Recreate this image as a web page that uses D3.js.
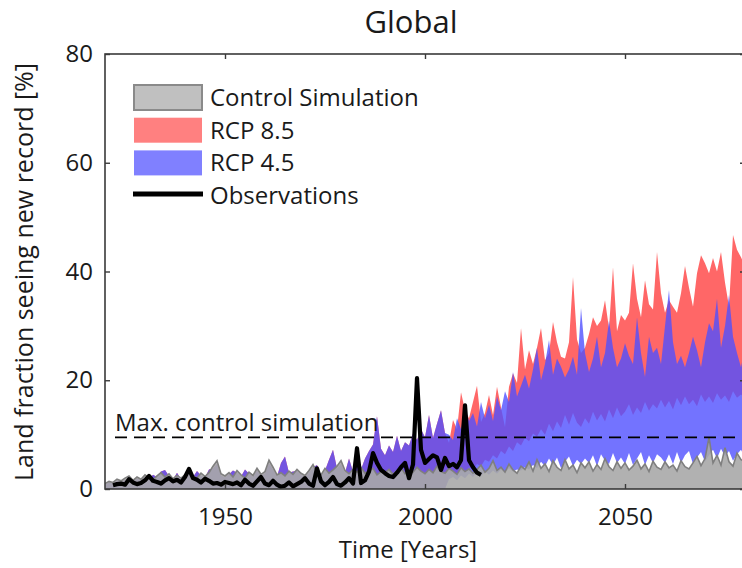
<!DOCTYPE html>
<meta charset="utf-8">
<style>
body { margin: 0; background: #fff; }
text { font-family: "Open Sans", sans-serif; fill: #1a1a1a; }
</style>

<svg width="742" height="568"></svg>
<script src="https://d3js.org/d3.v7.min.js"></script>
<script>

// ---- data (percent of land area) ----
var modelStart = 1920;
// control simulation upper envelope, 1920-2080
var ctrlHi = [
  1.0, 1.4, 1.2, 1.8, 1.5, 2.0, 2.4, 1.6, 2.2, 1.8,
  2.6, 2.0, 1.7, 2.4, 3.0, 2.2, 2.8, 1.9, 2.5, 2.0,
  2.6, 3.2, 2.4, 2.0, 2.9, 2.3, 3.0, 4.2, 5.2, 2.8,
  2.4, 3.0, 2.2, 3.4, 2.6, 2.0, 3.1, 2.5, 3.8, 2.7,
  3.2, 5.3, 4.0, 2.6, 3.0, 2.4, 3.3, 2.7, 3.6, 2.9,
  2.5, 3.4, 4.5, 3.0, 2.6, 3.8, 2.9, 3.5, 4.2, 5.2,
  3.4, 2.8, 3.6, 3.1, 4.0, 2.9, 3.3, 3.8, 2.6, 3.2,
  3.0, 3.6, 2.7, 3.4, 3.9, 2.8, 3.5, 3.1, 4.0, 3.3,
  2.8, 3.6, 3.0, 4.2, 3.2, 2.9, 3.8, 3.3, 2.7, 3.9,
  3.2, 3.7, 2.9, 3.6, 4.4, 3.1, 3.8, 5.2, 3.4, 4.0,
  3.1, 4.6, 3.5, 2.9, 4.2, 3.6, 5.0, 3.3, 5.4, 3.8,
  4.6, 3.2, 5.2, 4.0, 3.4, 5.4, 3.7, 4.4, 3.0, 4.8,
  3.9, 5.0, 3.3, 4.5, 3.6, 5.6, 4.1, 3.4, 5.0, 3.8,
  4.8, 3.5, 4.2, 5.3, 3.7, 4.6, 3.2, 5.1, 4.0, 3.6,
  5.0, 3.9, 4.4, 3.3, 5.2, 4.1, 3.7, 4.8, 6.0, 4.3,
  5.6, 9.5, 4.8, 6.2, 4.4, 7.6, 5.0, 4.2, 6.6, 5.4,
  5.0
];
// historical runs upper envelope (both scenarios), 1920-2005
var histHi = [
  0.8, 1.2, 1.0, 1.5, 1.3, 1.7, 2.0, 1.4, 1.9, 1.6,
  2.2, 1.8, 2.6, 2.2, 3.2, 3.5, 2.4, 1.7, 3.0, 1.8,
  2.3, 3.0, 2.2, 3.3, 2.5, 2.1, 3.6, 3.8, 4.6, 2.5,
  2.1, 2.7, 3.4, 3.0, 2.3, 3.6, 2.8, 2.2, 3.4, 2.4,
  2.9, 4.7, 3.6, 2.3, 4.8, 6.0, 3.0, 3.2, 3.3, 2.6,
  2.2, 3.0, 4.0, 4.4, 2.4, 3.4, 5.4, 7.2, 3.8, 4.6,
  3.0, 5.6, 3.2, 6.4, 3.6, 5.6, 7.0, 8.2, 13.4, 7.4,
  6.2, 8.0, 6.8, 9.8, 7.0, 8.6, 8.0, 10.2, 9.0, 11.0,
  9.5, 13.6, 9.4, 12.0, 14.5, 10.3
];
// scenario envelopes, 2006-2080
var scenStart = 2006;
var rcp85Hi = [
  8.5, 12.7, 11.0, 17.8,
  14.5, 13.0, 16.0, 19.0, 12.3, 14.0, 17.3, 13.6, 18.8, 15.0,
  11.4, 18.8, 21.3, 19.5, 29.6, 22.0, 25.5, 23.0, 26.0, 29.6,
  23.7, 25.0, 30.7, 27.0, 24.3, 24.0, 27.0, 39.0, 27.5, 25.0,
  26.0, 28.5, 31.6, 30.0, 31.0, 34.7, 29.5, 40.8, 29.0, 32.0,
  31.0, 32.4, 41.5, 35.0, 31.6, 38.4, 34.0, 33.0, 43.6, 36.0,
  32.4, 34.7, 33.5, 32.4, 36.0, 41.0, 37.0, 33.5, 39.7, 43.0,
  41.5, 39.7, 42.5, 40.0, 43.6, 38.0, 33.5, 46.7, 44.0, 42.6,
  41.0
];
var rcp85Lo = [
  2.2, 2.8, 2.4, 3.4,
  3.0, 4.0, 3.6, 4.6, 4.2, 5.4, 5.0, 6.2, 5.6, 7.0,
  6.4, 7.8, 7.0, 8.6, 8.0, 9.4, 8.8, 10.2, 9.6, 11.0,
  10.0, 12.0, 10.6, 12.4, 11.2, 13.6, 11.8, 14.0, 12.2, 11.4,
  13.0, 12.0, 14.2, 12.6, 13.8, 12.4, 14.6, 13.0, 15.0, 13.4,
  14.2, 15.6, 13.6, 15.0, 14.0, 16.0, 14.4, 15.6, 14.8, 16.4,
  15.0, 16.2, 14.6, 16.8, 15.4, 17.0, 15.6, 16.4, 15.2, 17.4,
  16.0, 17.0, 15.8, 17.6, 16.4, 17.2, 16.0, 18.0, 16.8, 17.4,
  16.6
];
var rcp45Hi = [
  10.0, 9.0, 13.0, 11.0,
  15.0, 12.5, 14.0, 11.5, 16.0, 13.0, 15.5, 12.5, 17.0, 14.5,
  18.0, 16.0, 21.5, 17.0, 19.0, 21.0, 18.5, 22.0, 26.0, 20.0,
  23.0, 27.4, 21.0, 24.0, 22.5, 20.5, 22.0, 24.3, 21.0, 33.3,
  25.0, 21.5, 24.0, 28.0, 22.4, 25.0, 31.0, 26.0, 22.4, 24.0,
  26.8, 24.5, 23.0, 31.6, 25.0, 20.6, 28.0, 25.0, 26.0, 23.0,
  30.0, 36.6, 27.0, 23.0, 24.5, 22.4, 25.0, 28.0, 25.5, 22.4,
  27.0, 30.5, 29.0, 35.0, 26.0, 30.0, 35.7, 28.0, 25.0, 22.4,
  26.0
];
var rcp45Lo = [
  1.8, 2.2, 1.6, 2.5,
  2.0, 2.8, 2.2, 3.0, 2.4, 3.2, 2.6, 3.4, 2.8, 3.6,
  3.0, 3.8, 3.2, 3.6, 3.4, 4.0, 3.6, 4.4, 3.8, 5.0,
  4.2, 5.6, 4.4, 5.8, 3.8, 5.0, 6.0, 4.2, 5.4, 4.6,
  5.6, 4.8, 6.2, 4.2, 6.4, 5.2, 4.6, 6.6, 4.8, 5.8,
  4.6, 6.6, 4.4, 5.6, 6.8, 4.4, 6.2, 4.8, 6.4, 5.8,
  4.8, 6.4, 4.6, 6.8, 4.8, 6.2, 7.0, 4.6, 5.8, 6.8,
  5.0, 6.2, 7.2, 5.6, 7.4, 6.0, 7.0, 5.2, 6.4, 7.2,
  5.8
];
// observations, 1922-2014
var obsStart = 1922;
var obs = [
  0.7, 0.9, 1.0, 0.8, 1.8, 1.2, 0.9, 1.1,
  1.6, 2.4, 1.5, 1.3, 1.0, 1.6, 2.0, 1.4, 1.7, 1.2,
  2.2, 3.7, 2.0, 1.7, 1.2, 1.9, 1.5, 1.0, 1.1, 0.8,
  1.3, 1.1, 0.9, 1.2, 0.7, 1.7, 1.0, 0.6, 1.4, 2.2,
  1.0, 0.7, 1.5, 0.8, 0.4, 0.6, 1.2, 0.5, 0.9, 1.3,
  2.0, 1.0, 0.6, 3.8, 1.4, 0.7, 1.3, 2.2, 0.9, 0.6,
  1.2, 2.0, 1.0, 7.5, 1.1, 1.6, 3.2, 6.6, 4.8, 3.5,
  2.9, 2.4, 2.2, 3.0, 4.0, 4.8, 2.0, 4.5, 20.4, 7.2,
  4.8, 5.5, 6.2, 5.8, 3.5, 5.7, 4.2, 4.6, 4.0, 5.3,
  15.4, 5.3, 4.0, 3.0, 2.6
];
var maxControl = 9.5;
var xTicks = [1950, 2000, 2050];
var yTicks = [0, 20, 40, 60, 80];
var legendLabels = ["Control Simulation", "RCP 8.5", "RCP 4.5", "Observations"];

var svg = d3.select("svg");

var x = d3.scaleLinear().domain([1920, 2080]).range([105, 745]);
var y = d3.scaleLinear().domain([0, 80]).range([489, 54]);

svg.append("defs").append("clipPath").attr("id", "plot")
  .append("rect").attr("x", 105).attr("y", 54).attr("width", 640).attr("height", 435);

var plot = svg.append("g").attr("clip-path", "url(#plot)");

// build band rows
var hist = histHi.map(function(v, i) { return {year: modelStart + i, lo: 0, hi: v}; });
var red = hist.concat(rcp85Hi.map(function(v, i) { return {year: scenStart + i, lo: rcp85Lo[i], hi: v}; }));
var blue = hist.concat(rcp45Hi.map(function(v, i) { return {year: scenStart + i, lo: rcp45Lo[i], hi: v}; }));
var ctrl = ctrlHi.map(function(v, i) { return {year: modelStart + i, hi: v}; });
var obsRows = obs.map(function(v, i) { return {year: obsStart + i, v: v}; });

var band = d3.area()
  .x(function(d) { return x(d.year); })
  .y0(function(d) { return y(d.lo); })
  .y1(function(d) { return y(d.hi); });

plot.append("path").datum(red).attr("d", band).attr("fill", "#ff6767");
plot.append("path").datum(blue).attr("d", band)
  .attr("fill", "rgb(80,80,255)").attr("fill-opacity", 0.8);

var ctrlArea = d3.area()
  .x(function(d) { return x(d.year); })
  .y0(y(0))
  .y1(function(d) { return y(d.hi); });
plot.append("path").datum(ctrl).attr("d", ctrlArea)
  .attr("fill", "#a9a9a9").attr("fill-opacity", 0.9);
plot.append("path").datum(ctrl)
  .attr("d", d3.line().x(function(d) { return x(d.year); }).y(function(d) { return y(d.hi); }))
  .attr("fill", "none").attr("stroke", "#7f7f7f").attr("stroke-width", 1.6);

// max control line
plot.append("line")
  .attr("x1", 115).attr("x2", 745)
  .attr("y1", y(maxControl)).attr("y2", y(maxControl))
  .attr("stroke", "#000").attr("stroke-width", 1.6)
  .attr("stroke-dasharray", "12,7");
svg.append("text").attr("x", 115).attr("y", y(maxControl) - 6)
  .attr("font-size", 24).text("Max. control simulation");

// observations
plot.append("path").datum(obsRows)
  .attr("d", d3.line().x(function(d) { return x(d.year); }).y(function(d) { return y(d.v); }))
  .attr("fill", "none").attr("stroke", "#000").attr("stroke-width", 4.2)
  .attr("stroke-linejoin", "round");

// frame + axes
svg.append("rect").attr("x", 105).attr("y", 54).attr("width", 640).attr("height", 435)
  .attr("fill", "none").attr("stroke", "#3a3a3a").attr("stroke-width", 1.6);

function styleAxis(g) {
  g.select(".domain").remove();
  g.selectAll("line").attr("stroke", "#3a3a3a").attr("stroke-width", 1.4);
  g.attr("font-family", null).attr("font-size", null);
  g.selectAll("text").attr("font-size", 24).attr("fill", "#1a1a1a");
}

svg.append("g").attr("transform", "translate(0,489)")
  .call(d3.axisBottom(x).tickValues(xTicks).tickSize(-5).tickPadding(19).tickFormat(d3.format("d")))
  .call(styleAxis);
svg.append("g").attr("transform", "translate(0,54)")
  .call(d3.axisTop(x).tickValues(xTicks).tickSize(-5).tickFormat(""))
  .call(styleAxis);
svg.append("g").attr("transform", "translate(105,0)")
  .call(d3.axisLeft(y).tickValues(yTicks).tickSize(-5).tickPadding(12))
  .call(styleAxis);
svg.append("g").attr("transform", "translate(745,0)")
  .call(d3.axisRight(y).tickValues(yTicks).tickSize(-5).tickFormat(""))
  .call(styleAxis);

// titles
svg.append("text").attr("x", 411).attr("y", 33).attr("text-anchor", "middle")
  .attr("font-size", 31).text("Global");
svg.append("text").attr("x", 408).attr("y", 558).attr("text-anchor", "middle")
  .attr("font-size", 24).text("Time [Years]");
svg.append("text").attr("transform", "translate(33,272) rotate(-90)")
  .attr("text-anchor", "middle").attr("font-size", 25)
  .text("Land fraction seeing new record [%]");

// legend
var swatch = [
  {fill: "#c0c0c0", stroke: "#8a8a8a"},
  {fill: "#ff8080", stroke: "none"},
  {fill: "#8080ff", stroke: "none"},
  {line: true}
];
var legend = svg.append("g").selectAll("g").data(legendLabels).enter().append("g")
  .attr("transform", function(d, i) { return "translate(133," + (84 + i * 32.7) + ")"; });
legend.each(function(d, i) {
  var g = d3.select(this), s = swatch[i];
  if (s.line) {
    g.append("line").attr("x1", 0).attr("x2", 70).attr("y1", 12).attr("y2", 12)
      .attr("stroke", "#000").attr("stroke-width", 5);
  } else {
    g.append("rect").attr("x", 1).attr("y", 1).attr("width", 68).attr("height", 25)
      .attr("fill", s.fill).attr("stroke", s.stroke).attr("stroke-width", 2);
  }
  g.append("text").attr("x", 77).attr("y", 22).attr("font-size", 24).text(d);
});

</script>
